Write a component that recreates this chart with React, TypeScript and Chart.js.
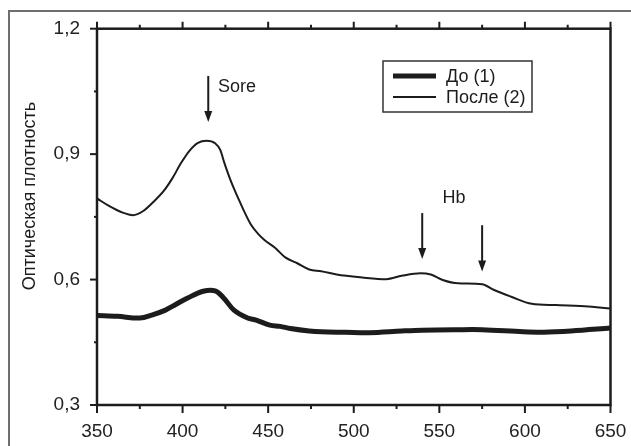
import React, { useEffect, useRef } from "react";
import { Chart, registerables } from "chart.js";

Chart.register(...registerables);

// ---- data ----
const beforeWavelengths = [350, 362, 375, 382, 390, 394, 403, 412, 419, 424, 430, 438, 443, 451, 457, 463, 474, 481, 495, 509, 528, 540, 560, 575, 599, 611, 627, 650];
const beforeValues = [0.514, 0.512, 0.508, 0.515, 0.527, 0.536, 0.556, 0.572, 0.573, 0.556, 0.527, 0.508, 0.503, 0.491, 0.488, 0.483, 0.477, 0.475, 0.474, 0.473, 0.477, 0.479, 0.48, 0.48, 0.475, 0.474, 0.477, 0.484];

const afterWavelengths = [350, 357, 365, 371, 377, 383, 389, 394, 399, 404, 409, 414, 419, 422, 424.5, 428, 433, 440, 444, 448, 454, 460, 467, 474, 481, 490, 505, 519, 528, 539, 545, 552, 561, 575, 582, 592, 604, 618, 635, 650];
const afterValues = [0.794, 0.776, 0.76, 0.754, 0.764, 0.786, 0.812, 0.842, 0.878, 0.908, 0.927, 0.932, 0.926, 0.91, 0.878, 0.838, 0.79, 0.731, 0.71, 0.694, 0.676, 0.653, 0.639, 0.624, 0.62, 0.612, 0.605, 0.601, 0.609, 0.615, 0.612, 0.599, 0.591, 0.589, 0.575, 0.559, 0.542, 0.539, 0.536, 0.531];

const seriesLabels = ["До (1)", "После (2)"];
const xTickLabels = [350, 400, 450, 500, 550, 600, 650];
const yTickLabels = [0.3, 0.6, 0.9, 1.2];
const yAxisTitle = "Оптическая плотность";

// arrows: wavelength, start value, end (tip) value
const arrowWavelengths = [415, 540, 575];
const arrowStarts = [1.087, 0.759, 0.73];
const arrowTips = [0.977, 0.649, 0.619];

const noteTexts = ["Sore", "Hb"];
const noteWavelengths = [420.7, 558.5];
const noteValues = [1.06, 0.795];
const noteAligns: CanvasTextAlign[] = ["left", "center"];

const INK = "#1c1c1c";
const FONT = "'Liberation Sans', Arial, sans-serif";

const near = (v: number, list: number[]) => list.some((t) => Math.abs(t - v) < 1e-6);

const decorPlugin = {
  id: "decor",
  afterDatasetsDraw(chart: any) {
    const { ctx, chartArea: a, scales } = chart;
    const x = scales.x;
    const y = scales.y;
    ctx.save();
    ctx.strokeStyle = INK;
    ctx.fillStyle = INK;
    ctx.lineCap = "butt";

    // frame
    ctx.lineWidth = 2.5;
    ctx.strokeRect(a.left, a.top, a.right - a.left, a.bottom - a.top);

    // x ticks (bottom + top)
    ctx.lineWidth = 2;
    x.ticks.forEach((t: any) => {
      const px = x.getPixelForValue(t.value);
      const major = near(t.value, xTickLabels);
      ctx.beginPath();
      ctx.moveTo(px, a.bottom);
      ctx.lineTo(px, a.bottom + (major ? 8 : 4));
      ctx.moveTo(px, a.top);
      ctx.lineTo(px, a.top - (major ? 7 : 4));
      ctx.stroke();
    });
    // y ticks (left)
    y.ticks.forEach((t: any) => {
      const py = y.getPixelForValue(t.value);
      const major = near(t.value, yTickLabels);
      ctx.beginPath();
      ctx.moveTo(a.left, py);
      ctx.lineTo(a.left - (major ? 7 : 3), py);
      ctx.stroke();
    });

    // arrows
    arrowWavelengths.forEach((w, i) => {
      const px = x.getPixelForValue(w);
      const y0 = y.getPixelForValue(arrowStarts[i]);
      const y1 = y.getPixelForValue(arrowTips[i]);
      ctx.lineWidth = 2;
      ctx.beginPath();
      ctx.moveTo(px, y0);
      ctx.lineTo(px, y1 - 8);
      ctx.stroke();
      ctx.beginPath();
      ctx.moveTo(px - 4, y1 - 11);
      ctx.lineTo(px + 4, y1 - 11);
      ctx.lineTo(px, y1);
      ctx.closePath();
      ctx.fill();
    });

    // notes
    ctx.font = `18px ${FONT}`;
    ctx.textBaseline = "middle";
    noteTexts.forEach((txt, i) => {
      ctx.textAlign = noteAligns[i];
      ctx.fillText(txt, x.getPixelForValue(noteWavelengths[i]), y.getPixelForValue(noteValues[i]));
    });

    // y title
    ctx.save();
    ctx.translate(35, 196);
    ctx.rotate(-Math.PI / 2);
    ctx.textAlign = "center";
    ctx.textBaseline = "alphabetic";
    ctx.font = `18px ${FONT}`;
    ctx.fillText(yAxisTitle, 0, 0);
    ctx.restore();

    // legend box
    const bx = 383, by = 61, bw = 149, bh = 51;
    ctx.lineWidth = 1.5;
    ctx.strokeStyle = "#333";
    ctx.strokeRect(bx, by, bw, bh);
    ctx.strokeStyle = INK;
    chart.data.datasets.forEach((ds: any, i: number) => {
      const ry = by + 15 + i * 21;
      ctx.lineWidth = ds.borderWidth;
      ctx.beginPath();
      ctx.moveTo(bx + 10, ry);
      ctx.lineTo(bx + 53, ry);
      ctx.stroke();
      ctx.textAlign = "left";
      ctx.textBaseline = "middle";
      ctx.font = `18px ${FONT}`;
      ctx.fillText(ds.label, bx + 63, ry + 1);
    });

    ctx.restore();
  },
};

export default function App() {
  const ref = useRef<HTMLCanvasElement | null>(null);

  useEffect(() => {
    if (!ref.current) return;
    const chart = new Chart(ref.current, {
      type: "line",
      data: {
        datasets: [
          {
            label: seriesLabels[0],
            data: beforeWavelengths.map((w, i) => ({ x: w, y: beforeValues[i] })),
            borderColor: INK,
            borderWidth: 5,
            pointRadius: 0,
            tension: 0.35,
            borderJoinStyle: "round",
            borderCapStyle: "round",
            fill: false,
          },
          {
            label: seriesLabels[1],
            data: afterWavelengths.map((w, i) => ({ x: w, y: afterValues[i] })),
            borderColor: INK,
            borderWidth: 2,
            pointRadius: 0,
            cubicInterpolationMode: "monotone",
            borderJoinStyle: "round",
            fill: false,
          },
        ],
      },
      options: {
        animation: false,
        responsive: false,
        devicePixelRatio: 1,
        layout: { padding: { left: 0, right: 20.5, top: 28.7, bottom: 0 } },
        plugins: { legend: { display: false }, tooltip: { enabled: false }, title: { display: false } },
        scales: {
          x: {
            type: "linear",
            min: 350,
            max: 650,
            grid: { display: false, drawTicks: true, tickLength: 15 },
            border: { display: false },
            ticks: {
              stepSize: 25,
              autoSkip: false,
              maxRotation: 0,
              padding: 0,
              color: "#222",
              font: { family: FONT, size: 19 },
              callback: (v: any) => (near(Number(v), xTickLabels) ? String(v) : ""),
            },
            afterFit: (s: any) => {
              s.height = 41;
            },
          },
          y: {
            type: "linear",
            min: 0.3,
            max: 1.2,
            grid: { display: false, drawTicks: true, tickLength: 17 },
            border: { display: false },
            ticks: {
              stepSize: 0.15,
              autoSkip: false,
              padding: 0,
              color: "#222",
              font: { family: FONT, size: 19 },
              callback: (v: any) => (near(Number(v), yTickLabels) ? Number(v).toFixed(1).replace(".", ",") : ""),
            },
            afterFit: (s: any) => {
              s.width = 97;
            },
          },
        },
      },
      plugins: [decorPlugin],
    });
    return () => chart.destroy();
  }, []);

  return (
    <div style={{ position: "fixed", left: 0, top: 0, width: 631, height: 446, overflow: "hidden", background: "#fff" }}>
      <div
        style={{
          position: "absolute",
          left: 8,
          top: 10,
          width: 700,
          height: 600,
          borderLeft: "2px solid #6e6e6e",
          borderTop: "2px solid #6e6e6e",
        }}
      />
      <canvas ref={ref} width={631} height={446} style={{ position: "absolute", left: 0, top: 0 }} />
    </div>
  );
}
